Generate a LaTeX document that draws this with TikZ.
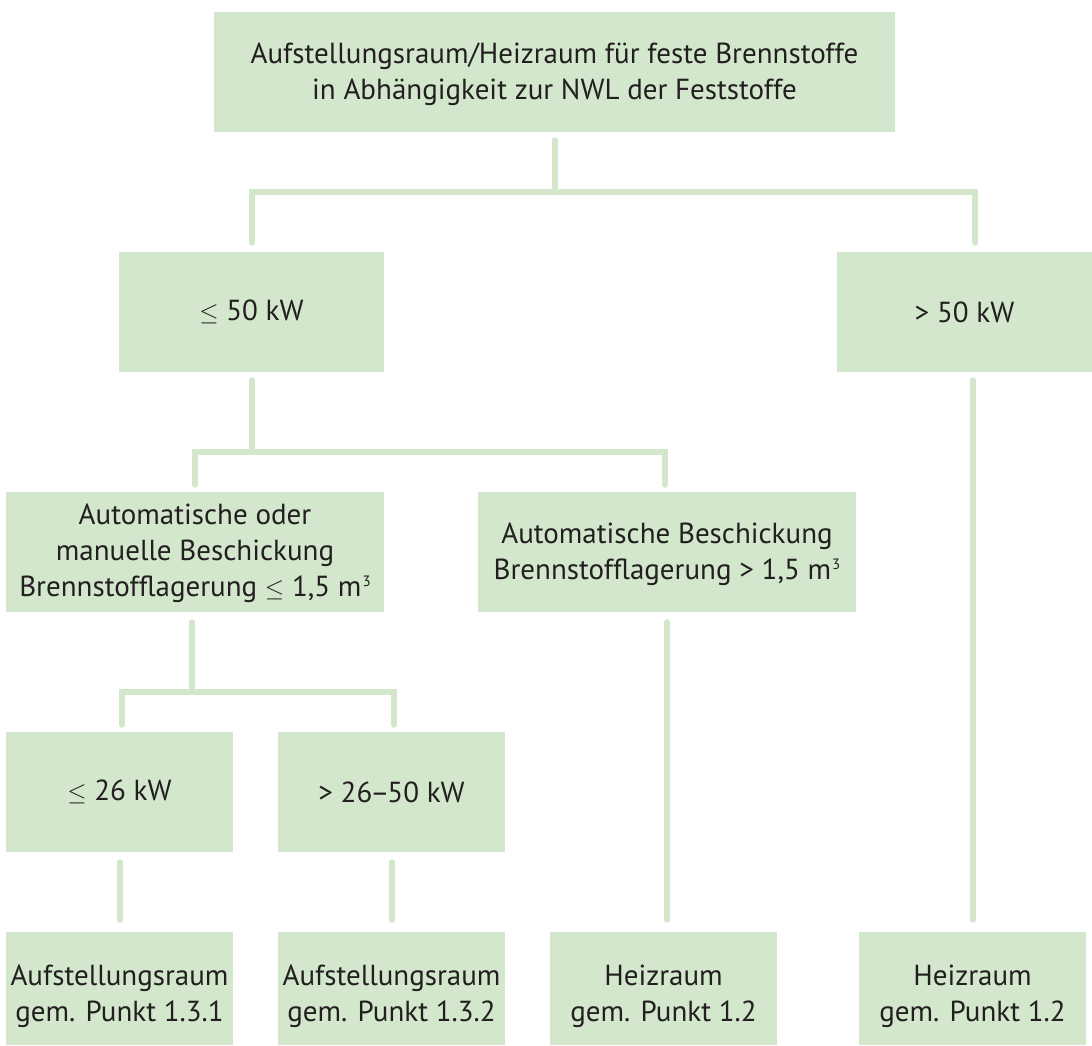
\documentclass[tikz,border=0pt]{standalone}
\usepackage{fontspec}
\setmainfont{PT Sans}
\usetikzlibrary{calc}
\definecolor{boxgreen}{RGB}{210,231,204}
\definecolor{txt}{RGB}{35,31,32}
\newcommand{\cubm}{m\kern1pt\raisebox{10pt}{\fontsize{15}{15}\selectfont 3}}
\tikzset{
  box/.style={fill=boxgreen, draw=none, inner sep=0pt, align=center,
    text=txt, font=\fontsize{29}{36}\selectfont},
  lastbase/.style={text height=#1, text depth=0pt},
  conn/.style={draw=boxgreen, line width=6pt, line cap=round, line join=miter}
}
\begin{document}
\begin{tikzpicture}[x=1pt,y=1pt]
\useasboundingbox (0,0) rectangle (1092,1046);
\node[box, minimum width=681, minimum height=120, lastbase=56pt] (top) at (554.5,974)
  {Aufstellungsraum/Heizraum für feste Brennstoffe\\in Abhängigkeit zur NWL der Feststoffe};
\node[box, minimum width=265, minimum height=120] (le50) at (251.5,734) {$\leq$ 50 kW};
\node[box, minimum width=255, minimum height=120] (gt50) at (964.5,734) {> 50 kW};
\node[box, minimum width=378, minimum height=120, lastbase=90pt] (autoA) at (195,494)
  {Automatische oder\\manuelle Beschickung\\Brennstofflagerung $\leq$ 1,5 \cubm};
\node[box, minimum width=378, minimum height=120, lastbase=56pt] (autoB) at (667,494)
  {Automatische Beschickung\\Brennstofflagerung > 1,5 \cubm};
\node[box, minimum width=227, minimum height=120] (le26) at (119.5,254) {$\leq$ 26 kW};
\node[box, minimum width=227, minimum height=120] (gt26) at (391.5,254) {> 26\kern-2pt–\kern-2pt50 kW};
\node[box, minimum width=227, minimum height=113, lastbase=67pt] (b1) at (119.5,57.5)
  {Aufstellungsraum\\gem. Punkt 1.3.1};
\node[box, minimum width=227, minimum height=113, lastbase=67pt] (b2) at (391.5,57.5)
  {Aufstellungsraum\\gem. Punkt 1.3.2};
\node[box, minimum width=227, minimum height=113, lastbase=67pt] (b3) at (663.5,57.5)
  {Heizraum\\gem. Punkt 1.2};
\node[box, minimum width=227, minimum height=113, lastbase=67pt] (b4) at (972.5,57.5)
  {Heizraum\\gem. Punkt 1.2};
% level 1
\coordinate (j1) at ($(top.south)+(0,-60)$);
\draw[conn] ($(top.south)+(0,-8)$) -- (j1);
\draw[conn] ($(le50.north)+(0.5,9)$) |- (j1) -| ($(gt50.north)+(10.5,9)$);
% level 2
\coordinate (j2) at ($(le50.south)+(0.5,-80)$);
\draw[conn] ($(le50.south)+(0.5,-8)$) -- (j2);
\draw[conn] ($(autoA.north)+(0,7)$) |- (j2) -| ($(autoB.north)+(-2,7)$);
% level 3
\coordinate (j3) at ($(autoA.south)+(-3,-80)$);
\draw[conn] ($(autoA.south)+(-3,-10)$) -- (j3);
\draw[conn] ($(le26.north)+(2.5,7)$) |- (j3) -| ($(gt26.north)+(2.5,7)$);
% to bottom
\draw[conn] ($(le26.south)+(0.5,-10)$) -- ($(b1.north)+(0.5,12)$);
\draw[conn] ($(gt26.south)+(0.5,-10)$) -- ($(b2.north)+(0.5,12)$);
\draw[conn] ($(autoB.south)+(0,-10)$) -- ($(b3.north)+(3.5,12)$);
\draw[conn] ($(gt50.south)+(8.5,-8)$) -- ($(b4.north)+(0.5,12)$);
\end{tikzpicture}
\end{document}
